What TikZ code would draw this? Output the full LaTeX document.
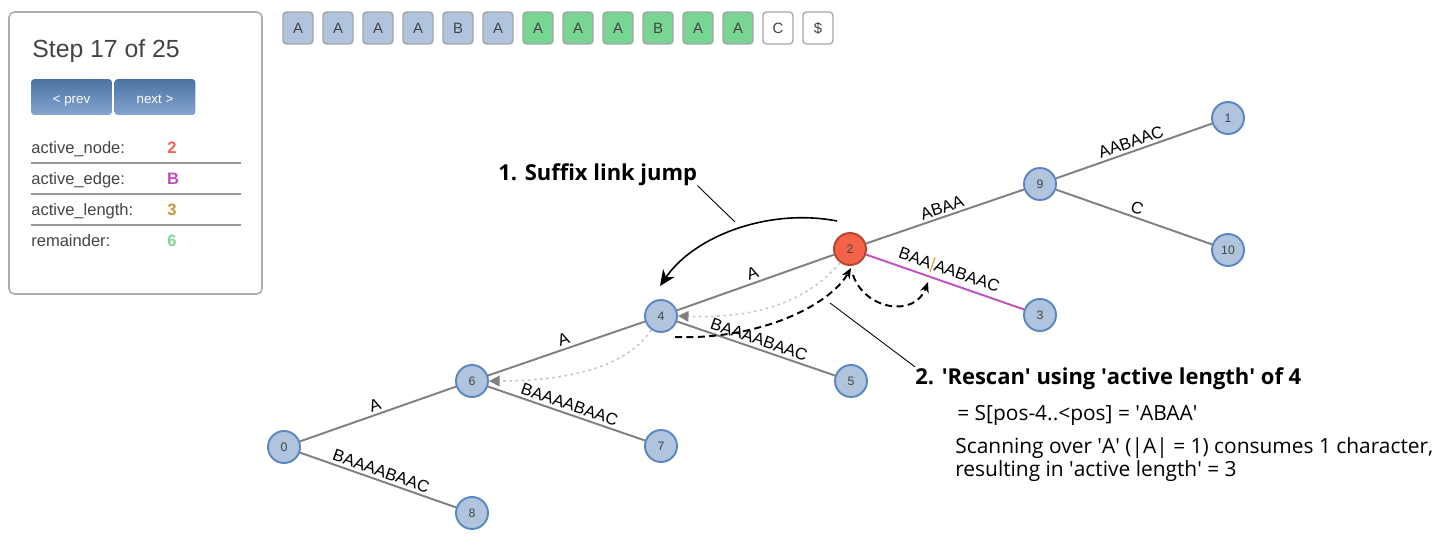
\documentclass[tikz,border=0pt]{standalone}
\usepackage{fontspec}
\setmainfont{Liberation Sans}
\newfontfamily\notefont{Open Sans}
\usepackage{xcolor}
\usepackage{tikz}
\usetikzlibrary{arrows.meta}

\definecolor{nodefill}{HTML}{B0C4DE}
\definecolor{nodeborder}{HTML}{5A87C0}
\definecolor{activefill}{HTML}{F2634A}
\definecolor{activeborder}{HTML}{B5452F}
\definecolor{edgegray}{HTML}{808080}
\definecolor{activeedge}{HTML}{C051C0}
\definecolor{barorange}{HTML}{D9A03F}
\definecolor{boxblue}{HTML}{B0C4DE}
\definecolor{boxgreen}{HTML}{79D692}
\definecolor{boxborder}{HTML}{A6A6A6}
\definecolor{panelborder}{HTML}{ADADAD}
\definecolor{darktext}{HTML}{444444}
\definecolor{valred}{HTML}{F26050}
\definecolor{valmagenta}{HTML}{BF4FBF}
\definecolor{valgold}{HTML}{CC9438}
\definecolor{valgreen}{HTML}{7ED694}
\definecolor{linkgray}{HTML}{C8C8C8}

\newcommand{\sq}{\textquotesingle}

\begin{document}
\begin{tikzpicture}[x=0.02cm, y=-0.02cm,
		vertex/.style={circle, draw=nodeborder, fill=nodefill, line width=1.1pt, minimum size=0.64cm, inner sep=0pt, text=darktext, font=\fontsize{7}{8}\selectfont},
		activevertex/.style={vertex, draw=activeborder, fill=activefill},
		treeedge/.style={draw=edgegray, line width=1.1pt},
		edgelabel/.style={midway, sloped, above, inner sep=1.5pt, font=\fontsize{9.5}{11}\selectfont},
		charbox/.style={draw=boxborder, line width=0.8pt, rounded corners=2pt, minimum width=0.6cm, minimum height=0.64cm, inner sep=0pt, text=darktext, font=\fontsize{8.5}{10}\selectfont},
		button/.style={rounded corners=2pt, top color=nodeborder!85!black, bottom color=nodeborder!75!white, minimum width=1.62cm, minimum height=0.72cm, inner sep=0pt, text height=1.6ex, text depth=0.2ex, text=white, font=\fontsize{7.6}{9}\selectfont},
		infolabel/.style={anchor=base west, inner sep=0pt, text=darktext, font=\fontsize{9.4}{11}\selectfont},
		infovalue/.style={anchor=base, inner sep=0pt, font=\fontsize{9.4}{11}\selectfont\bfseries},
		sepline/.style={draw=edgegray!80, line width=0.8pt},
		suffixlink/.style={draw=linkgray, line width=0.9pt, dash pattern=on 1.5pt off 2pt, -{Triangle[length=6pt, width=6pt, color=edgegray]}},
		jumparrow/.style={line width=0.9pt, -{Stealth[length=9pt, width=8pt]}},
		scanarrow/.style={line width=1.1pt, dash pattern=on 4pt off 2.5pt, -{Stealth[length=6pt, width=5pt]}},
		leader/.style={line width=0.5pt},
		notehead/.style={anchor=base west, inner sep=0pt, font=\notefont\fontsize{12.5}{15}\selectfont\bfseries},
		notetext/.style={anchor=base west, inner sep=0pt, font=\notefont\fontsize{11.9}{14}\selectfont}]

		\fill[white] (0,0) rectangle (1450,548);
		\useasboundingbox (0,0) rectangle (1450,548);

		\draw[panelborder, line width=0.9pt, rounded corners=3pt] (9,12) rectangle (262,294);
		\node[anchor=base west, inner sep=0pt, text=darktext, font=\fontsize{14.1}{17}\selectfont] (step) at (32,57) {Step 17 of 25};
		\node[button] (prev) at (71.5,97) {< prev};
		\node[button] (next) at (155,97) {next >};

		\node[infolabel] (nodelabel) at (31,153) {active\_node:};
		\node[infovalue, text=valred] (nodevalue) at (172,153) {2};
		\draw[sepline] (31,163) -- (241,163);
		\node[infolabel] (edgelabel) at (31,184) {active\_edge:};
		\node[infovalue, text=valmagenta] (edgevalue) at (173,184) {B};
		\draw[sepline] (31,194) -- (241,194);
		\node[infolabel] (lengthlabel) at (31,215) {active\_length:};
		\node[infovalue, text=valgold] (lengthvalue) at (172,215) {3};
		\draw[sepline] (31,225) -- (241,225);
		\node[infolabel] (remainderlabel) at (31,246) {remainder:};
		\node[infovalue, text=valgreen] (remaindervalue) at (172,246) {6};

		\node[charbox, fill=boxblue] (c1) at (298,28) {A};
		\node[charbox, fill=boxblue] (c2) at (338,28) {A};
		\node[charbox, fill=boxblue] (c3) at (378,28) {A};
		\node[charbox, fill=boxblue] (c4) at (418,28) {A};
		\node[charbox, fill=boxblue] (c5) at (458,28) {B};
		\node[charbox, fill=boxblue] (c6) at (498,28) {A};
		\node[charbox, fill=boxgreen] (c7) at (538,28) {A};
		\node[charbox, fill=boxgreen] (c8) at (578,28) {A};
		\node[charbox, fill=boxgreen] (c9) at (618,28) {A};
		\node[charbox, fill=boxgreen] (c10) at (658,28) {B};
		\node[charbox, fill=boxgreen] (c11) at (698,28) {A};
		\node[charbox, fill=boxgreen] (c12) at (738,28) {A};
		\node[charbox, fill=white] (c13) at (778,28) {C};
		\node[charbox, fill=white] (c14) at (818,28) {\$};

		\node[vertex] (v0) at (284,447) {0};
		\node[vertex] (v6) at (472,381) {6};
		\node[vertex] (v4) at (661,316) {4};
		\node[activevertex] (v2) at (850,249) {2};
		\node[vertex] (v9) at (1040,184) {9};
		\node[vertex] (v1) at (1228,118) {1};
		\node[vertex] (v10) at (1228,250) {10};
		\node[vertex] (v3) at (1040,315) {3};
		\node[vertex] (v5) at (851,381) {5};
		\node[vertex] (v7) at (661,446) {7};
		\node[vertex] (v8) at (472,513) {8};

		\draw[treeedge] (v0) -- node[edgelabel] {A} (v6);
		\draw[treeedge] (v6) -- node[edgelabel] {A} (v4);
		\draw[treeedge] (v4) -- node[edgelabel] {A} (v2);
		\draw[treeedge] (v2) -- node[edgelabel] {ABAA} (v9);
		\draw[treeedge] (v9) -- node[edgelabel] {AABAAC} (v1);
		\draw[treeedge] (v9) -- node[edgelabel] {C} (v10);
		\draw[treeedge, draw=activeedge] (v2) -- node[edgelabel] {BAA\textcolor{barorange}{|}AABAAC} (v3);
		\draw[treeedge] (v4) -- node[edgelabel] {BAAAABAAC} (v5);
		\draw[treeedge] (v6) -- node[edgelabel] {BAAAABAAC} (v7);
		\draw[treeedge] (v0) -- node[edgelabel] {BAAAABAAC} (v8);

		\draw[suffixlink] (v2.234) .. controls (800,310) and (740,318) .. (v4.east);
		\draw[suffixlink] (v4.235) .. controls (625,370) and (560,381) .. (v6.east);

		\coordinate (jumpstart) at (837,221);
		\coordinate (jumpend) at (660,286);
		\draw[jumparrow] (jumpstart) .. controls (770,208) and (695,235) .. (jumpend);

		\coordinate (scanstart) at (675,337);
		\coordinate (scanend) at (851,268);
		\draw[scanarrow] (scanstart) .. controls (760,340) and (830,305) .. (scanend);
		\coordinate (hopstart) at (853,275);
		\coordinate (hopend) at (928,282);
		\draw[scanarrow] (hopstart) .. controls (865,310) and (915,318) .. (hopend);

		\node[notehead] (jump) at (498,180) {1. Suffix link jump};
		\coordinate (jumptail) at (735,222);
		\draw[leader] (jump.south east) -- (jumptail);

		\node[notehead] (rescan) at (915,384) {2. \sq Rescan\sq{} using \sq active length\sq{} of 4};
		\coordinate (rescantail) at (830,303);
		\draw[leader] (rescantail) -- (rescan.north west);
		\node[notetext] (slice) at (957,420) {= S[pos-4..<pos] = \sq ABAA\sq};
		\node[notetext] (scanning) at (955,453) {Scanning over \sq A\sq{} (|A| = 1) consumes 1 character,};
		\node[notetext] (resulting) at (955,476) {resulting in \sq active length\sq{} = 3};
	\end{tikzpicture}
\end{document}
